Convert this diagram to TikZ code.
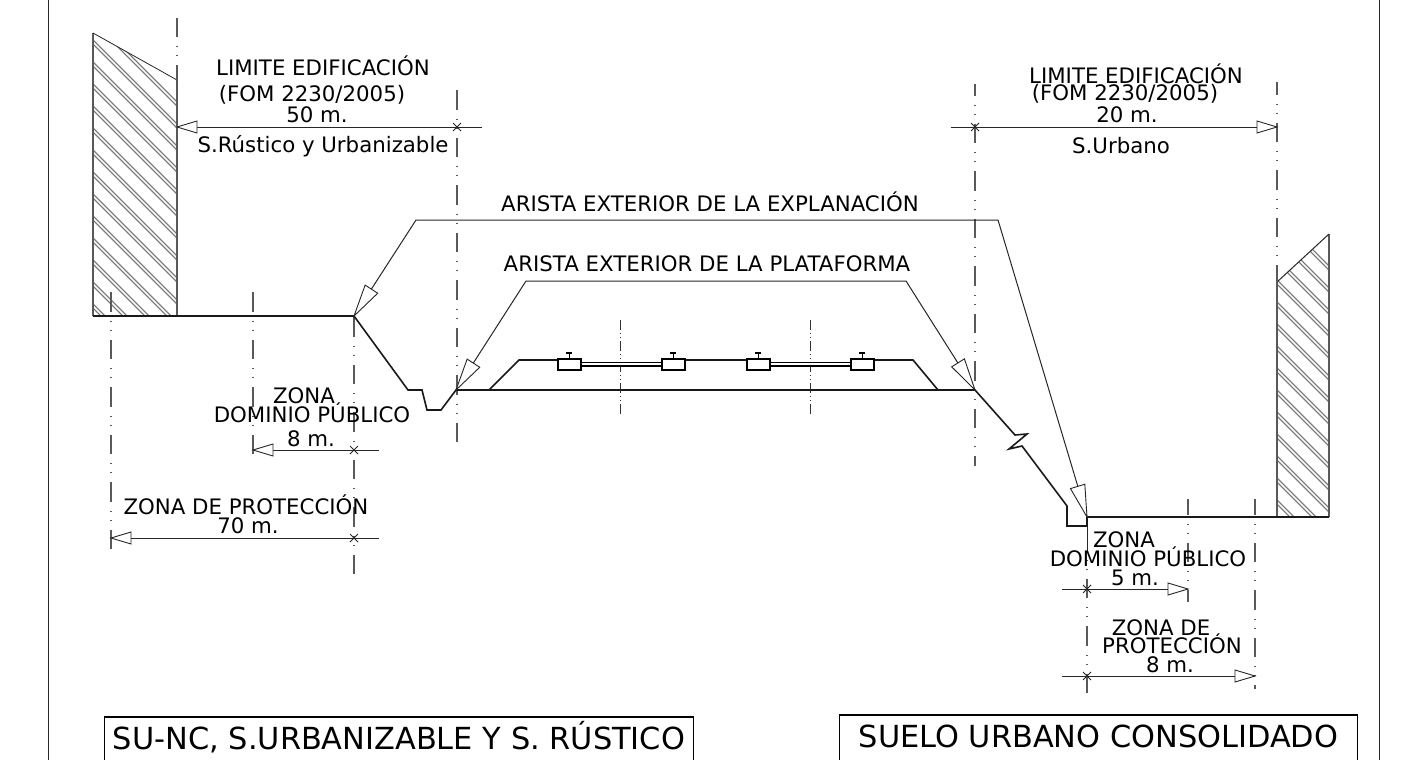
\documentclass[tikz,border=0pt]{standalone}
\usepackage{fontspec}
\usetikzlibrary{calc}
\setmainfont{DejaVu Sans}
\tikzset{
	thinline/.style={line width=1pt, black!85},
	groundline/.style={line width=1.6pt, black!90},
	axisline/.style={line width=1.3pt, black!65, dash pattern=on 19.5pt off 9pt on 1pt off 8pt on 1pt off 9pt},
	trackaxis/.style={line width=1pt, black!80, dash pattern=on 10pt off 3pt on 1pt off 3pt on 1pt off 3pt},
	hatchline/.style={line width=1.2pt, draw=black!55, double=white, double distance=1.6pt},
	dimtip/.style={draw=black!85, fill=white, line width=0.9pt},
	dimlabel/.style={font=\fontsize{21.3}{21.3}\selectfont, inner sep=0pt, anchor=base},
	titlebox/.style={font=\fontsize{30.4}{30.4}\selectfont, inner sep=0pt, anchor=north}
}
\newcommand{\dimarrow}[4]{% tip, direction, half width, length
	\draw[dimtip] (#1) -- ++(#2*#4,-#3) -- ++(0,2*#3) -- cycle;}
\newcommand{\dimcross}[1]{%
	\draw[thinline, line width=0.8pt] (#1)+(-4,-4) -- +(4,4) (#1)+(-4,4) -- +(4,-4);}
\newcommand{\leadertip}[2]{% tip, rotation
	\draw[dimtip, rotate around={#2:(#1)}] (#1) -- ++(32,-7.5) -- ++(0,15) -- cycle;}
\begin{document}
\begin{tikzpicture}[x=1pt, y=-1pt]
	\useasboundingbox (0,0) rectangle (1419,760);
	
	% frame
	\draw[thinline] (48,-2) -- (48,762);
	\draw[thinline] (1379,-2) -- (1379,762);
	
	% hatched buildings
	\begin{scope}
		\clip (93,33) -- (177,80) -- (177,316) -- (93,316) -- cycle;
		\foreach \k in {0,...,16}
		\draw[hatchline] (60,{-13+22*\k}) -- ++(220,220);
	\end{scope}
	\begin{scope}
		\clip (1277,282) -- (1329,234) -- (1329,517) -- (1277,517) -- cycle;
		\foreach \k in {-3,...,13}
		\draw[hatchline] (1260,{265+22*\k}) -- ++(100,100);
	\end{scope}
	\draw[thinline, black!65, line width=1.3pt] (93,316) -- (93,33) (177,316) -- (177,80);
	\draw[thinline, line width=0.8pt] (93,33) -- (177,80);
	\draw[thinline, black!65, line width=1.3pt] (1277,517) -- (1277,282) (1329,517) -- (1329,234);
	\draw[thinline] (1277,282) -- (1329,234);
	
	% axes
	\draw[axisline] (177,18) -- (177,80);
	\draw[axisline] (457,90) -- (457,442);
	\draw[axisline] (111,292) -- (111,550);
	\draw[axisline] (253,292) -- (253,463);
	\draw[axisline] (354,317) -- (354,575);
	\draw[axisline, dash phase=8pt] (975,84) -- (975,466);
	\draw[axisline, dash phase=7pt] (1277,82) -- (1277,282);
	\draw[trackaxis] (620,320) -- (620,417);
	\draw[trackaxis] (810,320) -- (810,417);
	\draw[axisline, dash phase=4pt] (1188,499) -- (1188,602);
	\draw[axisline, dash phase=4pt] (1255,499) -- (1255,689);
	\draw[thinline] (1087,517) -- (1087,553);
	\draw[axisline, dash phase=24pt] (1087,555) -- (1087,698);
	
	% ground profile
	\draw[groundline] (93,316) -- (354,316) -- (408,390) -- (422,390) -- (427,410) -- (441,410) -- (456,390) -- (975,390)
	-- (1015,435) -- (1027,434) -- (1009,449) -- (1022,446) -- (1067,506) -- (1067,526) -- (1087,526) -- (1087,517) -- (1329,517);
	
	% ballast and track
	\draw[groundline] (489,390) -- (519,360) -- (557,360);
	\draw[groundline] (683,360) -- (746,360);
	\draw[groundline] (873,360) -- (913,360) -- (938,390);
	\foreach \x/\name in {557/slpa,661/slpb,746/slpc,850/slpd} {
		\node[draw, fill=white, line width=1.5pt, minimum width=23pt, minimum height=11pt, inner sep=0pt, anchor=north west] (\name) at (\x,358) {};
		\draw[line width=1.4pt] (\name.north) -- ++(0,-4);
		\draw[line width=2pt] ($(\name.north)+(-3,-5)$) -- ++(6,0);
	}
	\draw[line width=1.2pt, double=white, double distance=2.2pt] (slpa.east) -- (slpb.west);
	\draw[line width=1.2pt, double=white, double distance=2.2pt] (slpc.east) -- (slpd.west);
	
	% leaders
	\draw[thinline] (354,316) -- (416,220) -- (998,220) -- (1087,517);
	\draw[thinline] (456,390) -- (526,281) -- (906,281) -- (975,390);
	
	% dimension lines
	\draw[thinline] (177,127) -- (482,127);
	\draw[thinline] (951,127) -- (1277,127);
	\draw[thinline] (253,450) -- (379,450);
	\draw[thinline] (111,538) -- (379,538);
	\draw[thinline] (1062,589) -- (1188,589);
	\draw[thinline] (1062,676) -- (1255,676);
	
	% labels
	\node[dimlabel] (limitea) at (323,76) {LIMITE EDIFICACIÓN};
	\node[dimlabel] (fomaa) at (312,101) {(FOM 2230/2005)};
	\node[dimlabel] (dima) at (317,122) {50 m.};
	\node[dimlabel] (rustico) at (323,152) {S.Rústico y Urbanizable};
	\node[dimlabel] (limiteb) at (1136,83) {LIMITE EDIFICACIÓN};
	\node[dimlabel] (fomab) at (1125,100) {(FOM 2230/2005)};
	\node[dimlabel] (dimb) at (1127,122) {20 m.};
	\node[dimlabel] (urbano) at (1121,153) {S.Urbano};
	\node[dimlabel] (explanacion) at (710,211) {ARISTA EXTERIOR DE LA EXPLANACIÓN};
	\node[dimlabel] (plataforma) at (707,271) {ARISTA EXTERIOR DE LA PLATAFORMA};
	\node[dimlabel] (zonaa) at (304,403) {ZONA};
	\node[dimlabel] (dominioa) at (312,422) {DOMINIO PÚBLICO};
	\node[dimlabel] (ocho) at (311,446) {8 m.};
	\node[dimlabel] (protecciona) at (246,514) {ZONA DE PROTECCIÓN};
	\node[dimlabel] (setenta) at (248,533) {70 m.};
	\node[dimlabel] (zonab) at (1124,547) {ZONA};
	\node[dimlabel] (dominiob) at (1148,566) {DOMINIO PÚBLICO};
	\node[dimlabel] (cinco) at (1135,585) {5 m.};
	\node[dimlabel] (zonac) at (1161,635) {ZONA DE};
	\node[dimlabel] (proteccionb) at (1172,653) {PROTECCIÓN};
	\node[dimlabel] (ochob) at (1170,672) {8 m.};
	
	% tips and ticks
	\dimarrow{177,127}{1}{6}{20}
	\dimarrow{253,450}{1}{6}{20}
	\dimarrow{111,538}{1}{6}{20}
	\dimarrow{1277,127}{-1}{6}{20}
	\dimarrow{1188,589}{-1}{6}{20}
	\dimarrow{1255,676}{-1}{6}{20}
	\dimcross{457,127}
	\dimcross{975,127}
	\dimcross{354,450}
	\dimcross{354,538}
	\dimcross{1087,589}
	\dimcross{1087,676}
	\leadertip{354,316}{57}
	\leadertip{456,390}{57}
	\leadertip{975,390}{122}
	\leadertip{1087,517}{107}
	
	% titles
	\node[titlebox, minimum width=589pt, minimum height=40pt] (titlea) at (399,717) {SU-NC, S.URBANIZABLE Y S. RÚSTICO};
	\node[titlebox, minimum width=517pt, minimum height=42pt] (titleb) at (1098.5,715) {SUELO URBANO CONSOLIDADO};
	\draw[line width=1.2pt] ($(titlea.south west)+(0,5)$) |- (titlea.north east) -- ++(0,45);
	\draw[line width=1.2pt] ($(titleb.south west)+(0,5)$) |- (titleb.north east) -- ++(0,47);
\end{tikzpicture}
\end{document}
